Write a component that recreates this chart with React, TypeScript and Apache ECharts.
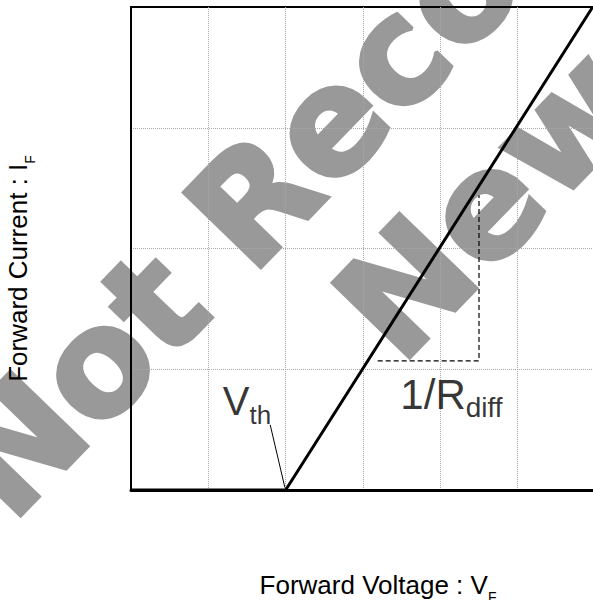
import React, { useEffect, useRef } from 'react';
import * as echarts from 'echarts';

// Axis ranges (arbitrary units, no tick labels in the original)
const xRange: [number, number] = [0, 6];
const yRange: [number, number] = [0, 4];

// Piece-wise linear I-V characteristic: flat until Vth, then straight line
const ivCurve: [number, number][] = [[0, 0], [2, 0], [5.97, 4]];

// Dashed slope triangle (1/Rdiff)
const slopeGuide: [number, number][] = [[3.19, 1.07], [4.5, 1.07], [4.5, 2.44]];

// Thin leader from the Vth label to the knee
const vthLeader: [number, number][] = [[1.8, 0.54], [1.99, 0.02]];

// Annotation anchors (top-left of the label) in data units
const vthLabelAt: [number, number] = [1.187, 0.903];
const rdiffLabelAt: [number, number] = [3.483, 0.964];

const vthText = 'V{sub|th}';
const rdiffText = '1/R{sub|diff}';
const xName = 'Forward Voltage : V{sub|F}';
const yName = 'Forward Current : I{sub|F}';
const watermarkLines = ['Not Recommended for', 'New Design'];

const SANS = 'Liberation Sans, Arial, sans-serif';

export default function App() {
  const ref = useRef<HTMLDivElement>(null);

  useEffect(() => {
    if (!ref.current) return;
    const chart = echarts.init(ref.current, null, { renderer: 'svg' });

    const nameSub = {
      fontFamily: SANS,
      fontSize: 14,
      lineHeight: 14,
      verticalAlign: 'top',
      padding: [18, 0, 0, 0],
      color: '#000',
    };

    const textLabel = (text: string, size: number, subSize: number, drop: number) => ({
      show: true,
      position: 'inside',
      align: 'left',
      verticalAlign: 'top',
      formatter: text,
      fontFamily: SANS,
      fontSize: size,
      color: '#000',
      rich: {
        sub: {
          fontFamily: SANS,
          fontSize: subSize,
          lineHeight: subSize,
          verticalAlign: 'top',
          padding: [drop, 0, 0, 0],
          color: '#000',
        },
      },
    });

    const theta = (46 * Math.PI) / 180;
    const wmStyle = {
      fontFamily: 'DejaVu Sans',
      fontWeight: 'bold',
      fontSize: 147,
      fill: '#999999',
      stroke: '#999999',
      lineWidth: 4,
      align: 'left',
      verticalAlign: 'middle',
    };

    chart.setOption({
      animation: false,
      backgroundColor: '#fff',
      grid: {
        left: 131,
        top: 7,
        right: 5,
        bottom: 110,
        show: true,
        borderColor: '#000',
        borderWidth: 2,
        containLabel: false,
        outerBoundsMode: 'none',
      },
      graphic: [
        {
          type: 'text',
          x: -25,
          y: 490,
          rotation: theta,
          z: -10,
          silent: true,
          style: { ...wmStyle, text: watermarkLines[0] },
        },
        {
          type: 'text',
          x: 364,
          y: 332,
          rotation: theta,
          z: -10,
          silent: true,
          style: { ...wmStyle, text: watermarkLines[1] },
        },
      ],
      xAxis: {
        type: 'value',
        min: xRange[0],
        max: xRange[1],
        interval: 1,
        name: xName,
        nameLocation: 'middle',
        nameGap: 82,
        nameTextStyle: {
          fontFamily: SANS,
          fontSize: 26,
          color: '#000',
          padding: [0, 0, 0, 30],
          rich: { sub: nameSub },
        },
        axisLine: { show: true, onZero: false, lineStyle: { color: '#000', width: 3 } },
        axisTick: { show: false },
        axisLabel: { show: false },
        splitLine: {
          show: true,
          showMinLine: false,
          showMaxLine: false,
          lineStyle: { color: '#a8a8a8', type: 'dotted', width: 1 },
        },
      },
      yAxis: {
        type: 'value',
        min: yRange[0],
        max: yRange[1],
        interval: 1,
        name: yName,
        nameLocation: 'middle',
        nameRotate: 90,
        nameGap: 100,
        nameTextStyle: {
          fontFamily: SANS,
          fontSize: 26,
          color: '#000',
          padding: [0, 40, 0, 0],
          rich: { sub: nameSub },
        },
        axisLine: { show: true, onZero: false, lineStyle: { color: '#000', width: 2 } },
        axisTick: { show: false },
        axisLabel: { show: false },
        splitLine: {
          show: true,
          showMinLine: false,
          showMaxLine: false,
          lineStyle: { color: '#a8a8a8', type: 'dotted', width: 1 },
        },
      },
      series: [
        {
          type: 'line',
          data: slopeGuide,
          symbol: 'none',
          silent: true,
          z: 3,
          lineStyle: { color: '#000', width: 1.2, type: [5, 3] },
        },
        {
          type: 'line',
          data: vthLeader,
          symbol: 'none',
          silent: true,
          z: 3,
          lineStyle: { color: '#000', width: 1 },
        },
        {
          type: 'line',
          data: ivCurve,
          symbol: 'none',
          silent: true,
          z: 4,
          lineStyle: { color: '#000', width: 3 },
        },
        {
          type: 'scatter',
          data: [vthLabelAt],
          symbolSize: 1,
          silent: true,
          z: 5,
          itemStyle: { color: 'transparent' },
          label: textLabel(vthText, 40, 26, 21),
        },
        {
          type: 'scatter',
          data: [rdiffLabelAt],
          symbolSize: 1,
          silent: true,
          z: 5,
          itemStyle: { color: 'transparent' },
          label: textLabel(rdiffText, 42, 28, 20),
        },
      ],
    });

    return () => {
      chart.dispose();
    };
  }, []);

  return (
    <div
      style={{
        position: 'absolute',
        left: 0,
        top: 0,
        width: 593,
        height: 600,
        overflow: 'hidden',
        background: '#fff',
      }}
    >
      <div ref={ref} style={{ width: 600, height: 600 }} />
    </div>
  );
}
